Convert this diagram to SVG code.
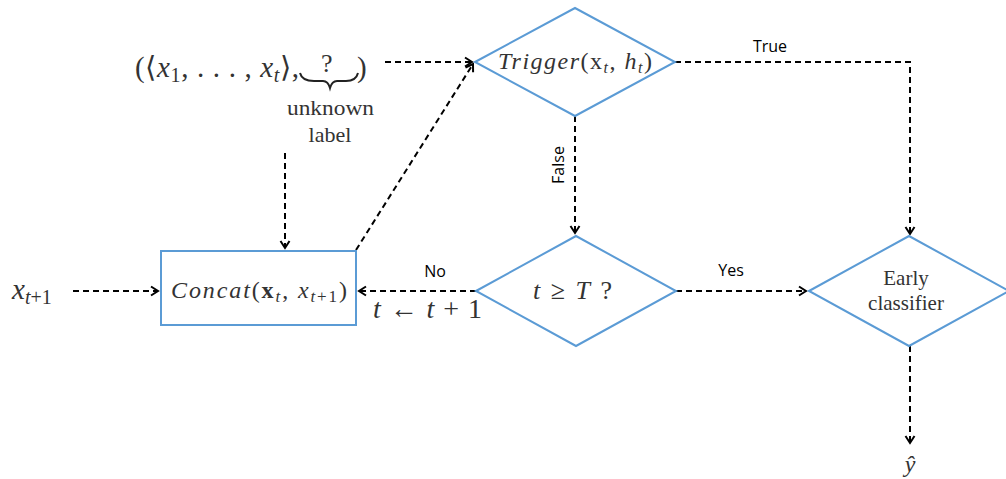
<svg xmlns="http://www.w3.org/2000/svg" width="1006" height="479" viewBox="0 0 1006 479">
<style>
.node{fill:#fff;stroke:#5B9BD5;stroke-width:2}
.conn{fill:none;stroke:#000;stroke-width:2;stroke-dasharray:6 4}
.math{font-family:"Liberation Serif",serif;fill:#333}
.it{font-style:italic}
.lab{font-family:"Open Sans","Liberation Sans",sans-serif;font-size:16px;fill:#000}
</style>
<defs>
<marker id="ah" markerWidth="12" markerHeight="12" refX="9" refY="6" orient="auto" markerUnits="userSpaceOnUse">
<path d="M2,1.5 L9,6 L2,10.5" fill="none" stroke="#000" stroke-width="2"/>
</marker>
</defs>
<g id="connectors">
<path class="conn" d="M73,291 H158" marker-end="url(#ah)"/>
<path class="conn" d="M476,291 H359" marker-end="url(#ah)"/>
<path class="conn" d="M285,153 V248" marker-end="url(#ah)"/>
<path class="conn" d="M356,250 L473,64" marker-end="url(#ah)"/>
<path class="conn" d="M385,62 H472" marker-end="url(#ah)"/>
<path class="conn" d="M675,62 H910 V234" marker-end="url(#ah)"/>
<path class="conn" d="M575,116 V233" marker-end="url(#ah)"/>
<path class="conn" d="M676,291 H806" marker-end="url(#ah)"/>
<path class="conn" d="M910,346 V443" marker-end="url(#ah)"/>
<text class="lab" x="770" y="52" text-anchor="middle">True</text>
<text class="lab" x="435" y="277" text-anchor="middle">No</text>
<text class="lab" x="731" y="276" text-anchor="middle">Yes</text>
<text class="lab" transform="translate(564,165) rotate(-90)" text-anchor="middle">False</text>
<text class="math" x="373" y="318" font-size="28" textLength="109" lengthAdjust="spacing"><tspan class="it">t</tspan> ← <tspan class="it">t</tspan> + 1</text>
</g>
<g id="input-tuple">
<text class="math" x="135" y="77" font-size="29" textLength="164" lengthAdjust="spacing">(⟨<tspan class="it">x</tspan><tspan font-size="20" dy="5">1</tspan><tspan dy="-5">, . . . , </tspan><tspan class="it">x</tspan><tspan class="it" font-size="20" dy="5">t</tspan><tspan dy="-5">⟩,</tspan></text>
<text class="math" x="321" y="72" font-size="26">?</text>
<text class="math" x="357" y="77" font-size="29">)</text>
<path d="M300,73 Q302,81 314,81 L323,81 Q328,81 330,88 Q332,81 337,81 L346,81 Q356,81 358,73" fill="none" stroke="#222" stroke-width="2"/>
<text class="math" x="287" y="115" font-size="22" textLength="87" lengthAdjust="spacingAndGlyphs">unknown</text>
<text class="math" x="330" y="142" font-size="22" text-anchor="middle">label</text>
</g>
<g id="input-x">
<text class="math it" x="12" y="299" font-size="29">x<tspan font-size="20" dy="5" font-style="italic">t</tspan><tspan font-size="20" font-style="normal">+1</tspan></text>
</g>
<g id="concat">
<rect class="node" x="161" y="251" width="195" height="74"/>
<text class="math" x="171" y="298" font-size="24" textLength="176" lengthAdjust="spacing"><tspan class="it">Concat</tspan>(<tspan font-weight="bold">x</tspan><tspan class="it" font-size="17" dy="4">t</tspan><tspan dy="-4">, </tspan><tspan class="it">x</tspan><tspan class="it" font-size="17" dy="4">t</tspan><tspan font-size="17">+1</tspan><tspan dy="-4">)</tspan></text>
</g>
<g id="trigger">
<polygon class="node" points="475,62 575,8 675,62 575,116"/>
<text class="math" x="498" y="69" font-size="24" textLength="154" lengthAdjust="spacing"><tspan class="it">Trigger</tspan>(x<tspan class="it" font-size="16" dy="4">t</tspan><tspan dy="-4">, </tspan><tspan class="it">h</tspan><tspan class="it" font-size="16" dy="4">t</tspan><tspan dy="-4">)</tspan></text>
</g>
<g id="check">
<polygon class="node" points="476,291 576,236 676,291 576,346"/>
<text class="math" x="533" y="299" font-size="26" textLength="79" lengthAdjust="spacing"><tspan class="it">t</tspan> ≥ <tspan class="it">T</tspan>  ?</text>
</g>
<g id="early">
<polygon class="node" points="809,291 909,236 1009,291 909,346"/>
<text class="math" x="906" y="285" font-size="21" text-anchor="middle" fill="#000">Early</text>
<text class="math" x="906" y="310" font-size="21" text-anchor="middle" fill="#000">classifier</text>
</g>
<g id="output">
<text class="math it" x="910" y="472" font-size="24" text-anchor="middle">ŷ</text>
</g>
</svg>
